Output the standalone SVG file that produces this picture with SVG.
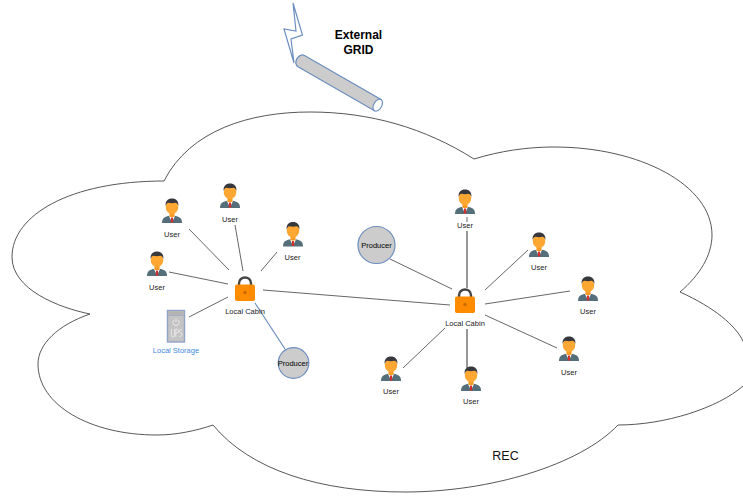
<svg xmlns="http://www.w3.org/2000/svg" width="743" height="496" viewBox="0 0 743 496">
<style>
text{font-family:"Liberation Sans",Arial,sans-serif;font-size:7.5px;fill:#222;text-anchor:middle}
.c{stroke:#555;stroke-width:.9;fill:none}
.b{stroke:#6c8ebf;stroke-width:1.2;fill:none}
.h{font-weight:bold;font-size:12px;fill:#000}
.s{stroke:#6c8ebf;stroke-width:1.2;fill:#ccc}
</style>
<defs>
<symbol id="person" width="20" height="25" viewBox="0 0 20 25" overflow="visible">
<path d="M0 25C0 20.500 2 19 6 18L10 17.500L14 18C18 19 20 20.500 20 25Z" fill="#546e7a"/>
<path d="M7 18L10 24.500L13 18Z" fill="#fff"/>
<path d="M9 19.500H11L11.300 24.500H8.700Z" fill="#d32f2f"/>
<rect x="7.500" y="13" width="5" height="6" fill="#f59c25"/>
<ellipse cx="10" cy="9" rx="6.300" ry="7.200" fill="#ffa733"/>
<path d="M3.700 8C3 3 6 0.500 10 0.500C14 0.500 17 3 16.300 8C15.800 6.200 15 5 13.500 4.800C11 5.400 8.500 5.300 6.300 4.800C5 5 4.200 6.200 3.700 8Z" fill="#37383d"/>
</symbol>
<symbol id="lock" width="20" height="25" viewBox="0 0 20 25" overflow="visible">
<path d="M4 10V7.500C4 -0.500 16 -0.500 16 7.500V10" fill="none" stroke="#444" stroke-width="2.400"/>
<rect x="0" y="8.500" width="20" height="16.500" rx="1.800" fill="#ff8c00"/>
<circle cx="10" cy="16.500" r="1.700" fill="#c96a00"/>
</symbol>
</defs>

<path id="cloud" d="M164 181C190 130 250 112 310 112C370 112 425 128 474 159C500 151 527 147 554 147C640 147 712 185 712 235C712 255 700 275 680 292C715 308 735 325 743 341C755 360 755 375 743 386C718 408 665 425 618 425C580 465 490 492 405 492C320 492 250 470 213 425C195 431 176 435 157 435C90 435 38 405 38 364C38 344 58 325 90 314C60 308 12 290 12 257C12 215 70 181 164 181Z" fill="#fff" stroke="#444" stroke-width=".9"/>

<g id="connectors">
<path class="c" d="M189 229L229 270M235 225L243 271M277 252L261 271M169 272L228 284M189 317L228 297M263 290L450 305"/>
<path class="b" d="M255 303L285 349"/>
<path class="c" d="M390 259L452 289M467 217V222M485 290L528 250M485 304L570 291M485 315L557 348M445 328L403 368"/>
<path class="c" style="stroke:#444;stroke-width:1.100" d="M467 231V288M467 329V368"/>
</g>

<g id="lightning"><path d="M293 3L302.500 35L291 39L294 63L284 29L296 31Z" fill="#fff" stroke="#6c8ebf" stroke-width="1.200"/></g>
<g id="grid-pipe">
<path class="s" d="M304.500 55.500L381 99.500L374.500 110.800L298 66.800A6.500 5 -60 0 1 304.500 55.500Z"/>
<ellipse cx="377.700" cy="105.200" rx="6.500" ry="4" transform="rotate(-60 377.700 105.200)" fill="#fff" stroke="#6c8ebf" stroke-width="1.200"/>
</g>
<g id="external-grid"><text class="h" x="358.500" y="39">External</text><text class="h" x="358.500" y="53.500">GRID</text></g>

<g id="user-1"><use href="#person" x="162" y="198"/><text x="172" y="236.500">User</text></g>
<g id="user-2"><use href="#person" x="220" y="183"/><text x="230" y="221.500">User</text></g>
<g id="user-3"><use href="#person" x="283" y="221.500"/><text x="292.500" y="259.500">User</text></g>
<g id="user-4"><use href="#person" x="147" y="251"/><text x="157" y="289.500">User</text></g>
<g id="user-5"><use href="#person" x="455" y="189"/><text x="465" y="227.500">User</text></g>
<g id="user-6"><use href="#person" x="529" y="232"/><text x="539" y="270">User</text></g>
<g id="user-7"><use href="#person" x="578" y="276"/><text x="588" y="313.500">User</text></g>
<g id="user-8"><use href="#person" x="559" y="336"/><text x="569" y="374.500">User</text></g>
<g id="user-9"><use href="#person" x="381" y="356"/><text x="391" y="393.500">User</text></g>
<g id="user-10"><use href="#person" x="461" y="366"/><text x="471" y="403.500">User</text></g>

<g id="cabin-1"><use href="#lock" x="235" y="276"/><text x="245" y="313.500">Local Cabin</text></g>
<g id="cabin-2"><use href="#lock" x="455" y="288"/><text x="465" y="326">Local Cabin</text></g>

<g id="producer-1"><circle class="s" cx="293.500" cy="363" r="15.300"/><text x="293" y="365.500" style="fill:#000">Producer</text></g>
<g id="producer-2"><circle class="s" cx="376.500" cy="245" r="18.500"/><text x="376.500" y="247.500" style="fill:#000">Producer</text></g>

<g id="local-storage">
<rect x="167.500" y="310.500" width="17" height="31.500" fill="#c4c4c4" stroke="#8fa3c9" stroke-width="1.400"/>
<rect x="168.500" y="311.500" width="15" height="3.500" fill="#b4b4b4"/>
<line x1="168" y1="315.500" x2="184" y2="315.500" stroke="#8fa3c9" stroke-width=".6"/>
<path d="M174 320A3.100 3.100 0 1 0 178 320M176 318.500V322" fill="none" stroke="#eee" stroke-width=".9"/>
<path d="M171.500 329V335Q171.500 337 173 337T174.500 335V329M175.800 337V329H177Q178.500 329 178.500 331T177 333H175.800M182 330Q180 328.500 179.500 330.500T181 333T181.500 336Q180.500 337.500 179.200 336" fill="none" stroke="#eee" stroke-width=".8"/>
<text x="176" y="352.500" style="fill:#3d8ae0">Local Storage</text>
</g>

<g id="rec"><text x="505.500" y="459.500" style="font-size:12.500px;fill:#111">REC</text></g>
</svg>
